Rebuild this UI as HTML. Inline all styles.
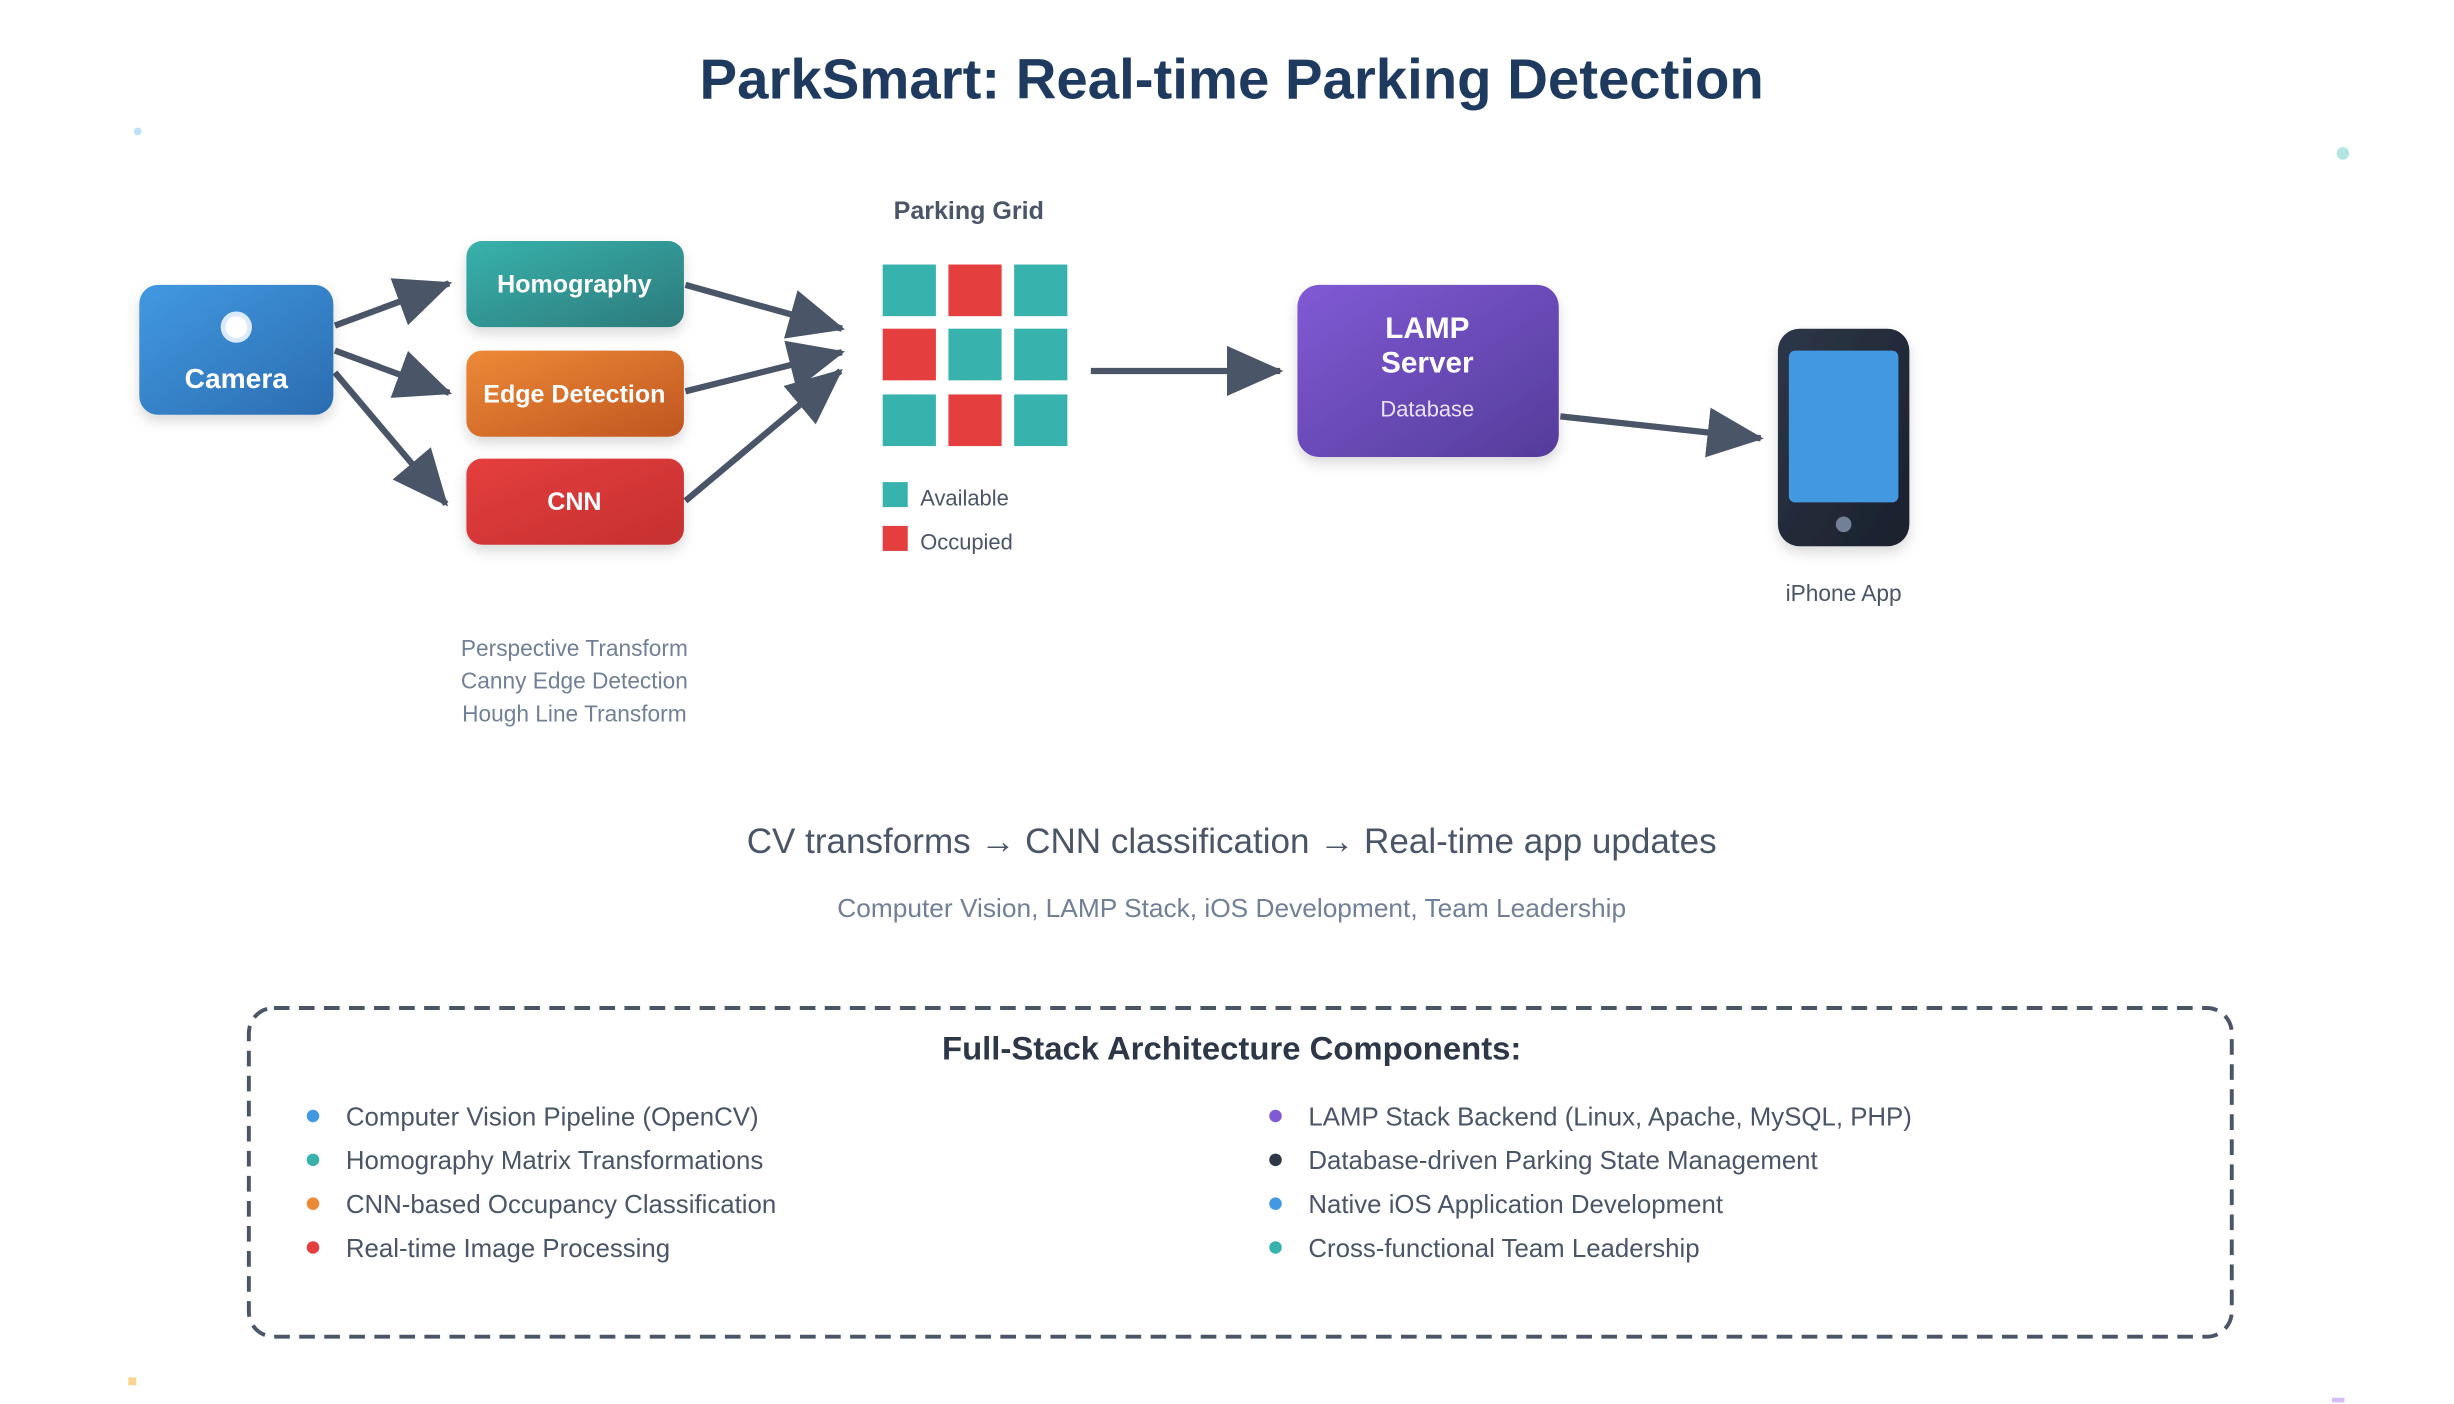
<!DOCTYPE html>
<html><head><meta charset="utf-8"><style>html,body{margin:0;padding:0;background:#fff}svg{display:block}text{font-family:"Liberation Sans",sans-serif}</style></head>
<body>
<svg width="2454" height="1404" viewBox="0 0 1568 897" preserveAspectRatio="none" xmlns="http://www.w3.org/2000/svg">
<defs>
<linearGradient id="gb" x1="0" y1="0" x2="1" y2="1"><stop offset="0" stop-color="#4299e1"/><stop offset="1" stop-color="#2b6cb0"/></linearGradient>
<linearGradient id="gt" x1="0" y1="0" x2="1" y2="1"><stop offset="0" stop-color="#38b2ac"/><stop offset="1" stop-color="#2c7a7b"/></linearGradient>
<linearGradient id="go" x1="0" y1="0" x2="1" y2="1"><stop offset="0" stop-color="#ed8936"/><stop offset="1" stop-color="#c05621"/></linearGradient>
<linearGradient id="gr" x1="0" y1="0" x2="1" y2="1"><stop offset="0" stop-color="#e53e3e"/><stop offset="1" stop-color="#c53030"/></linearGradient>
<linearGradient id="gp" x1="0" y1="0" x2="1" y2="1"><stop offset="0" stop-color="#805ad5"/><stop offset="1" stop-color="#553c9a"/></linearGradient>
<linearGradient id="gd" x1="0" y1="0" x2="1" y2="1"><stop offset="0" stop-color="#2d3748"/><stop offset="1" stop-color="#1a202c"/></linearGradient>
<filter id="sh" x="-20%" y="-20%" width="140%" height="150%"><feDropShadow dx="0" dy="4" stdDeviation="4" flood-color="#000" flood-opacity="0.15"/></filter>
</defs>
<marker id="a2" markerWidth="36" markerHeight="36" refX="34" refY="18" orient="auto" markerUnits="userSpaceOnUse"><path d="M0,2 L36,18 L0,34 z" fill="#4a5568"/></marker>

<text x="787" y="63" text-anchor="middle" font-size="36" font-weight="bold" fill="#1e3a5f">ParkSmart: Real-time Parking Detection</text>

<circle cx="88" cy="84" r="2.5" fill="#bee3f8"/>
<circle cx="1497" cy="98" r="4" fill="#b2e4e1"/>
<rect x="82" y="880" width="5" height="5" fill="#fbd38d"/>
<rect x="1490" y="893" width="8" height="3" fill="#d6bcfa"/>

<g stroke="#4a5568" stroke-width="4" fill="none" marker-end="url(#a2)">
<line x1="214" y1="208" x2="287" y2="181"/>
<line x1="214" y1="224" x2="287" y2="251"/>
<line x1="214" y1="238" x2="285" y2="322"/>
<line x1="438" y1="182" x2="538" y2="210"/>
<line x1="438" y1="250" x2="538" y2="225"/>
<line x1="438" y1="320" x2="537" y2="237"/>
<line x1="697" y1="237" x2="818" y2="237"/>
<line x1="997" y1="266" x2="1125" y2="280"/>
</g>

<rect x="89" y="182" width="124" height="83" rx="12" fill="url(#gb)" filter="url(#sh)"/>
<circle cx="151" cy="209" r="10" fill="#dbeafe"/><circle cx="151" cy="209" r="7" fill="#fff"/>
<text x="151" y="248" text-anchor="middle" font-size="18" font-weight="bold" fill="#fff">Camera</text>

<rect x="298" y="154" width="139" height="55" rx="10" fill="url(#gt)" filter="url(#sh)"/>
<text x="367" y="187" text-anchor="middle" font-size="16" font-weight="bold" fill="#fff">Homography</text>
<rect x="298" y="224" width="139" height="55" rx="10" fill="url(#go)" filter="url(#sh)"/>
<text x="367" y="257" text-anchor="middle" font-size="16" font-weight="bold" fill="#fff">Edge Detection</text>
<rect x="298" y="293" width="139" height="55" rx="10" fill="url(#gr)" filter="url(#sh)"/>
<text x="367" y="326" text-anchor="middle" font-size="16" font-weight="bold" fill="#fff">CNN</text>

<g font-size="14.5" fill="#718096" text-anchor="middle">
<text x="367" y="419">Perspective Transform</text>
<text x="367" y="440">Canny Edge Detection</text>
<text x="367" y="461">Hough Line Transform</text>
</g>

<text x="619" y="140" text-anchor="middle" font-size="16" font-weight="bold" fill="#4a5568">Parking Grid</text>
<g>
<rect x="564" y="169" width="34" height="33" fill="#38b2ac"/><rect x="606" y="169" width="34" height="33" fill="#e53e3e"/><rect x="648" y="169" width="34" height="33" fill="#38b2ac"/>
<rect x="564" y="210" width="34" height="33" fill="#e53e3e"/><rect x="606" y="210" width="34" height="33" fill="#38b2ac"/><rect x="648" y="210" width="34" height="33" fill="#38b2ac"/>
<rect x="564" y="252" width="34" height="33" fill="#38b2ac"/><rect x="606" y="252" width="34" height="33" fill="#e53e3e"/><rect x="648" y="252" width="34" height="33" fill="#38b2ac"/>
</g>
<rect x="564" y="308" width="16" height="16" fill="#38b2ac"/>
<text x="588" y="323" font-size="14" fill="#4a5568">Available</text>
<rect x="564" y="336" width="16" height="16" fill="#e53e3e"/>
<text x="588" y="351" font-size="14" fill="#4a5568">Occupied</text>

<rect x="829" y="182" width="167" height="110" rx="14" fill="url(#gp)" filter="url(#sh)"/>
<text x="912" y="216" text-anchor="middle" font-size="19" font-weight="bold" fill="#fff">LAMP</text>
<text x="912" y="238" text-anchor="middle" font-size="19" font-weight="bold" fill="#fff">Server</text>
<text x="912" y="266" text-anchor="middle" font-size="14" fill="#e9e3f8">Database</text>

<rect x="1136" y="210" width="84" height="139" rx="14" fill="url(#gd)" filter="url(#sh)"/>
<rect x="1143" y="224" width="70" height="97" rx="4" fill="#4299e1"/>
<circle cx="1178" cy="335" r="5" fill="#718096"/>
<text x="1178" y="384" text-anchor="middle" font-size="14.5" fill="#4a5568">iPhone App</text>

<text x="787" y="545" text-anchor="middle" font-size="22.4" fill="#4a5568">CV transforms → CNN classification → Real-time app updates</text>
<text x="787" y="586" text-anchor="middle" font-size="16.8" fill="#718096">Computer Vision, LAMP Stack, iOS Development, Team Leadership</text>

<rect x="159" y="644" width="1267" height="210" rx="16" fill="none" stroke="#4a5568" stroke-width="2.5" stroke-dasharray="10 6"/>
<text x="787" y="677" text-anchor="middle" font-size="21" font-weight="bold" fill="#2d3748">Full-Stack Architecture Components:</text>
<g font-size="16.5" fill="#4a5568">
<circle cx="200" cy="713" r="4" fill="#4299e1"/><text x="221" y="719">Computer Vision Pipeline (OpenCV)</text>
<circle cx="200" cy="741" r="4" fill="#38b2ac"/><text x="221" y="747">Homography Matrix Transformations</text>
<circle cx="200" cy="769" r="4" fill="#ed8936"/><text x="221" y="775">CNN-based Occupancy Classification</text>
<circle cx="200" cy="797" r="4" fill="#e53e3e"/><text x="221" y="803">Real-time Image Processing</text>
<circle cx="815" cy="713" r="4" fill="#805ad5"/><text x="836" y="719">LAMP Stack Backend (Linux, Apache, MySQL, PHP)</text>
<circle cx="815" cy="741" r="4" fill="#2d3748"/><text x="836" y="747">Database-driven Parking State Management</text>
<circle cx="815" cy="769" r="4" fill="#4299e1"/><text x="836" y="775">Native iOS Application Development</text>
<circle cx="815" cy="797" r="4" fill="#38b2ac"/><text x="836" y="803">Cross-functional Team Leadership</text>
</g>
</svg>
</body></html>
